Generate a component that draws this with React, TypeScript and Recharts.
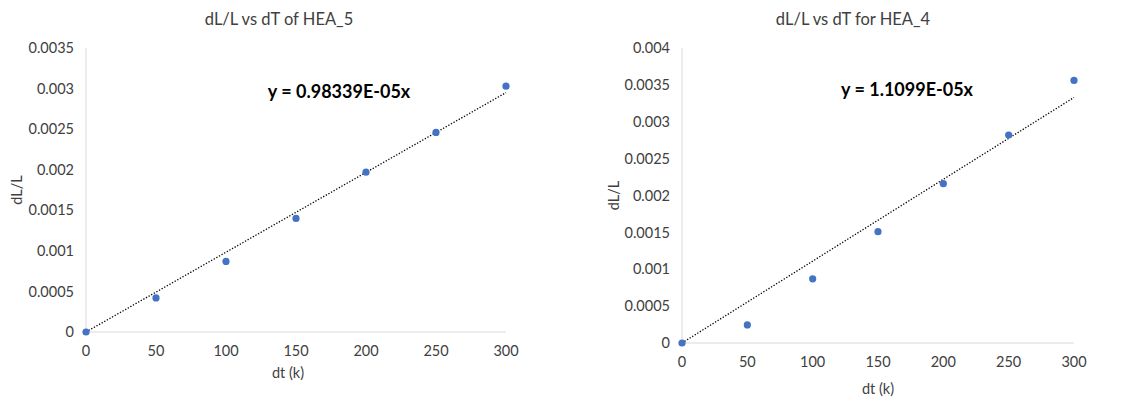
import React from 'react';
import { ScatterChart, Scatter, XAxis, YAxis, ReferenceLine } from 'recharts';

// temperature steps (k)
const dtSteps = [0, 50, 100, 150, 200, 250, 300];

// measured strain for each alloy
const hea5Strain = [0, 0.00042, 0.00087, 0.0014, 0.00197, 0.00246, 0.00303];
const hea4Strain = [0, 0.000245, 0.00087, 0.00151, 0.00216, 0.00282, 0.00356];

// fitted slopes through the origin
const hea5Slope = 0.98339e-5;
const hea4Slope = 1.1099e-5;

const xTicks = [0, 50, 100, 150, 200, 250, 300];
const hea5Ticks = [0, 0.0005, 0.001, 0.0015, 0.002, 0.0025, 0.003, 0.0035];
const hea4Ticks = [0, 0.0005, 0.001, 0.0015, 0.002, 0.0025, 0.003, 0.0035, 0.004];

const FONT = 'Lato, "Open Sans", sans-serif';
const TEXT = '#404040';
const AXIS = '#d9d9d9';
const DOT = '#4472c4';

interface PanelProps {
  left: number;
  title: string;
  equation: string;
  strain: number[];
  slope: number;
  yTicks: number[];
  yMax: number;
  yAxisWidth: number;
  xAxisHeight: number;
  rightMargin: number;
  titleX: number;
  eqX: number;
  eqY: number;
  xLabelDx: number;
  xLabelY: number;
  yLabelX: number;
}

const Panel: React.FC<PanelProps> = (p) => {
  const points = dtSteps.map((x, i) => ({ x, y: p.strain[i] }));
  const xEnd = dtSteps[dtSteps.length - 1];
  const tick = { fill: TEXT, fontSize: 14.5, fontFamily: FONT };

  return (
    <div style={{ position: 'absolute', left: p.left, top: 0, width: 570, height: 400 }}>
      <div
        style={{
          position: 'absolute', top: 9, left: p.titleX - 150, width: 300, textAlign: 'center',
          fontFamily: FONT, fontSize: 16.5, color: TEXT,
        }}
      >
        {p.title}
      </div>
      <div
        style={{
          position: 'absolute', top: p.eqY - 12, left: p.eqX - 150, width: 300, textAlign: 'center',
          fontFamily: FONT, fontSize: 18, fontWeight: 700, color: '#000',
        }}
      >
        {p.equation}
      </div>
      <ScatterChart
        width={570}
        height={400}
        margin={{ top: 48, right: p.rightMargin, bottom: 0, left: 0 }}
      >
        <XAxis
          type="number"
          dataKey="x"
          domain={[0, 300]}
          ticks={xTicks}
          height={p.xAxisHeight}
          stroke={AXIS}
          tickLine={false}
          tick={tick}
          tickMargin={8}
          label={(props: any) => {
            const vb = props.viewBox;
            return (
              <text
                x={vb.x + vb.width / 2 + p.xLabelDx}
                y={vb.y + p.xLabelY}
                textAnchor="middle"
                fill={TEXT}
                fontSize={14.5}
                fontFamily={FONT}
              >
                dt (k)
              </text>
            );
          }}
        />
        <YAxis
          type="number"
          dataKey="y"
          domain={[0, p.yMax]}
          ticks={p.yTicks}
          width={p.yAxisWidth}
          stroke={AXIS}
          tickLine={false}
          tick={tick}
          tickMargin={6}
          label={(props: any) => {
            const vb = props.viewBox;
            const cy = vb.y + vb.height / 2;
            return (
              <text
                x={p.yLabelX}
                y={cy}
                textAnchor="middle"
                dominantBaseline="central"
                transform={`rotate(-90 ${p.yLabelX} ${cy})`}
                fill={TEXT}
                fontSize={14.5}
                fontFamily={FONT}
              >
                dL/L
              </text>
            );
          }}
        />
        <ReferenceLine
          segment={[{ x: 0, y: 0 }, { x: xEnd, y: p.slope * xEnd }]}
          stroke="#000"
          strokeWidth={1.3}
          strokeDasharray="1.3 1.7"
          ifOverflow="visible"
        />
        <Scatter data={points} fill={DOT} isAnimationActive={false} shape={(s: any) => (
          <circle cx={s.cx} cy={s.cy} r={3.6} fill={DOT} />
        )} />
      </ScatterChart>
    </div>
  );
};

export default function App() {
  return (
    <div style={{ position: 'absolute', left: 0, top: 0, width: 1140, height: 400, background: '#fff' }}>
      <Panel
        left={0}
        title="dL/L vs dT of HEA_5"
        equation="y = 0.98339E-05x"
        strain={hea5Strain}
        slope={hea5Slope}
        yTicks={hea5Ticks}
        yMax={0.0035}
        yAxisWidth={86}
        xAxisHeight={68}
        rightMargin={64}
        titleX={279}
        eqX={339}
        eqY={92}
        xLabelDx={-8}
        xLabelY={46}
        yLabelX={16}
      />
      <Panel
        left={570}
        title="dL/L vs dT for HEA_4"
        equation="y = 1.1099E-05x"
        strain={hea4Strain}
        slope={hea4Slope}
        yTicks={hea4Ticks}
        yMax={0.004}
        yAxisWidth={112}
        xAxisHeight={57}
        rightMargin={66}
        titleX={283}
        eqX={337}
        eqY={90}
        xLabelDx={0}
        xLabelY={51}
        yLabelX={43}
      />
    </div>
  );
}
